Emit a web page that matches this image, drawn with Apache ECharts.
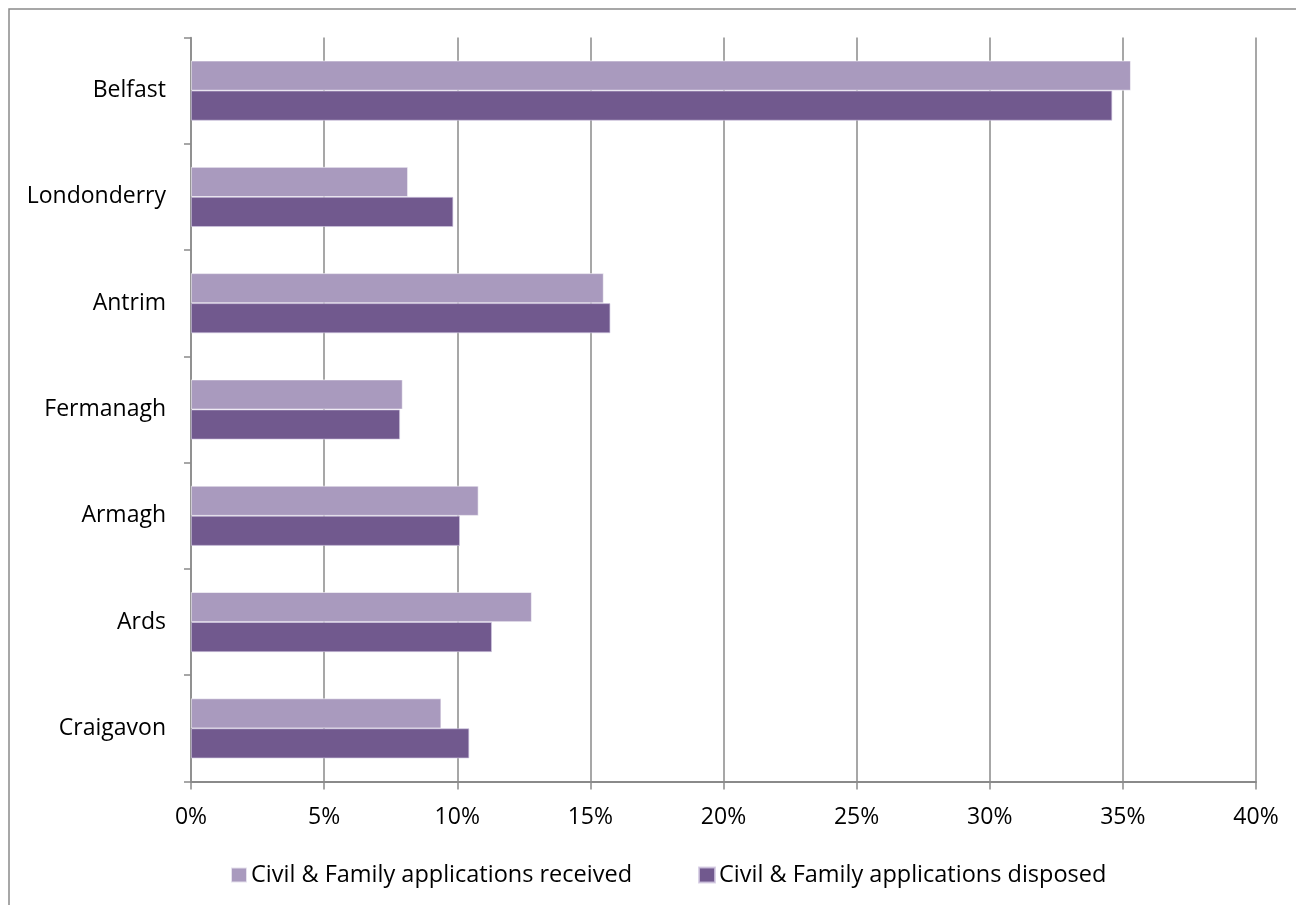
<!DOCTYPE html>
<html>
<head>
<meta charset="utf-8">
<script src="https://cdn.jsdelivr.net/npm/echarts@6/dist/echarts.min.js"></script>
<style>
html,body{margin:0;padding:0;background:#fff;}
#chart{width:1296px;height:905px;}
</style>
</head>
<body>
<div id="chart"></div>
<script>
const categories = ['Belfast', 'Londonderry', 'Antrim', 'Fermanagh', 'Armagh', 'Ards', 'Craigavon'];
const received = [35.3, 8.15, 15.5, 7.95, 10.8, 12.8, 9.4];
const disposed = [34.6, 9.85, 15.75, 7.85, 10.1, 11.3, 10.45];
const seriesNames = ['Civil & Family applications received', 'Civil & Family applications disposed'];
const xTicks = {min: 0, max: 40, step: 5};

const FONT = '"Open Sans", "Liberation Sans", sans-serif';
const GRID = '#8a8a8a';

const chart = echarts.init(document.getElementById('chart'));
chart.setOption({
  animation: false,
  backgroundColor: '#ffffff',
  graphic: [{
    type: 'rect',
    shape: {x: 9, y: 9, width: 1320, height: 1000},
    style: {fill: 'none', stroke: '#8a8a8a', lineWidth: 1.5},
    silent: true,
    z: -1
  }],
  grid: {left: 191, right: 40, top: 37.5, bottom: 123.5, containLabel: false},
  legend: {
    data: seriesNames,
    left: 230,
    top: 863,
    padding: 0,
    icon: 'rect',
    itemWidth: 16,
    itemHeight: 15,
    itemGap: 66,
    textStyle: {fontFamily: FONT, fontSize: 23.5, color: '#000', padding: [0, 0, 0, -1]}
  },
  xAxis: {
    type: 'value',
    min: xTicks.min,
    max: xTicks.max,
    interval: xTicks.step,
    axisLine: {show: true, lineStyle: {color: GRID, width: 2}},
    axisTick: {show: true, length: 8, lineStyle: {color: GRID, width: 1.5}},
    splitLine: {show: true, lineStyle: {color: GRID, width: 1.5}},
    axisLabel: {
      formatter: '{value}%',
      fontFamily: FONT, fontSize: 23, color: '#000', margin: 24
    }
  },
  yAxis: {
    type: 'category',
    data: categories,
    inverse: true,
    axisLine: {show: true, lineStyle: {color: GRID, width: 1.5}},
    axisTick: {show: true, length: 7, lineStyle: {color: GRID, width: 1.5}},
    axisLabel: {fontFamily: FONT, fontSize: 23, color: '#000', margin: 25}
  },
  series: [
    {
      name: seriesNames[0],
      type: 'bar',
      data: received,
      barWidth: 30,
      barGap: '0%',
      itemStyle: {color: '#a99abe', borderColor: 'rgba(255,255,255,0.7)', borderWidth: 0.8}
    },
    {
      name: seriesNames[1],
      type: 'bar',
      data: disposed,
      barWidth: 30,
      barGap: '0%',
      itemStyle: {color: '#71598e', borderColor: 'rgba(210,200,225,0.8)', borderWidth: 0.8}
    }
  ]
});
</script>
</body>
</html>
